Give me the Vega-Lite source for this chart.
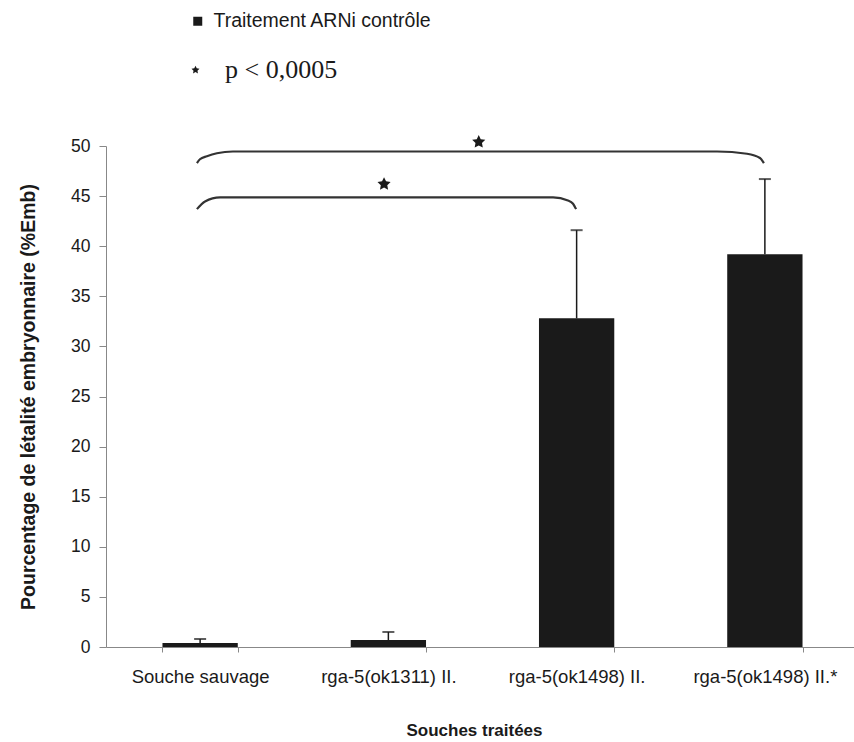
{
  "$schema": "https://vega.github.io/schema/vega-lite/v6.json",
  "width": 748,
  "height": 501,
  "autosize": {"type": "none"},
  "padding": {"left": 106, "top": 146, "right": 0, "bottom": 95},
  "background": "white",
  "config": {"view": {"stroke": null}, "font": "Liberation Sans"},
  "datasets": {
    "bars": [
      {"souche": "Souche sauvage", "val": 0.4, "upper": 0.8, "serie": "Traitement ARNi contrôle"},
      {"souche": "rga-5(ok1311) II.", "val": 0.7, "upper": 1.5, "serie": "Traitement ARNi contrôle"},
      {"souche": "rga-5(ok1498) II.", "val": 32.8, "upper": 41.6, "serie": "Traitement ARNi contrôle"},
      {"souche": "rga-5(ok1498) II.*", "val": 39.2, "upper": 46.7, "serie": "Traitement ARNi contrôle"}
    ],
    "brackets": [
      {"grp": "haut", "i": 1, "bx": 0.483, "by": 48.3},
      {"grp": "haut", "i": 2, "bx": 0.499, "by": 48.68},
      {"grp": "haut", "i": 3, "bx": 0.536, "by": 48.98},
      {"grp": "haut", "i": 4, "bx": 0.589, "by": 49.28},
      {"grp": "haut", "i": 5, "bx": 0.674, "by": 49.45},
      {"grp": "haut", "i": 6, "bx": 3.246, "by": 49.45},
      {"grp": "haut", "i": 7, "bx": 3.405, "by": 49.23},
      {"grp": "haut", "i": 8, "bx": 3.474, "by": 48.8},
      {"grp": "haut", "i": 9, "bx": 3.495, "by": 48.3},
      {"grp": "bas", "i": 1, "bx": 0.483, "by": 43.7},
      {"grp": "bas", "i": 2, "bx": 0.526, "by": 44.47},
      {"grp": "bas", "i": 3, "bx": 0.606, "by": 44.87},
      {"grp": "bas", "i": 4, "bx": 2.375, "by": 44.87},
      {"grp": "bas", "i": 5, "bx": 2.454, "by": 44.57},
      {"grp": "bas", "i": 6, "bx": 2.481, "by": 44.24},
      {"grp": "bas", "i": 7, "bx": 2.497, "by": 43.7}
    ],
    "stars": [
      {"bx": 1.98, "by": 50.4, "sig": "p < 0,0005"},
      {"bx": 1.477, "by": 46.2, "sig": "p < 0,0005"}
    ]
  },
  "layer": [
    {
      "layer": [
        {
          "data": {"name": "bars"},
          "mark": {"type": "bar"},
          "encoding": {
            "x": {
              "field": "souche", "type": "nominal", "sort": null,
              "scale": {"range": [0, 753], "paddingInner": 0.6, "paddingOuter": 0.3},
              "title": "Souches traitées",
              "axis": {
                "labelAngle": 0, "tickBand": "extent", "tickSize": 5, "labelPadding": 15,
                "labelFontSize": 18.5, "labelColor": "#1a1a1a", "labelFont": "Liberation Sans", "labelLimit": 0,
                "titleFontSize": 17, "titleFontWeight": "bold", "titleColor": "#1a1a1a", "titlePadding": 37,
                "titleX": 368,
                "domainColor": "#888888", "tickColor": "#888888", "grid": false
              }
            },
            "y": {
              "field": "val", "type": "quantitative",
              "scale": {"domain": [0, 50], "nice": false},
              "title": "Pourcentage de létalité embryonnaire (%Emb)",
              "axis": {
                "values": [0, 5, 10, 15, 20, 25, 30, 35, 40, 45, 50],
                "tickSize": 7, "labelPadding": 9, "labelFontSize": 17.5, "labelColor": "#1a1a1a",
                "titleFontSize": 19.5, "titleFontWeight": "bold", "titleColor": "#1a1a1a", "titlePadding": 32,
                "domainColor": "#888888", "tickColor": "#888888", "grid": false
              }
            },
            "color": {
              "field": "serie", "type": "nominal",
              "scale": {"range": ["#1a1a1a"]},
              "legend": {
                "orient": "none", "legendX": 82, "legendY": -134.5, "title": null, "padding": 0,
                "symbolType": "square", "symbolSize": 81, "symbolStrokeWidth": 0,
                "labelFont": "Liberation Sans", "labelFontSize": 19.5, "labelColor": "#1a1a1a",
                "labelOffset": 6, "labelLimit": 0
              }
            }
          }
        },
        {
          "data": {"name": "bars"},
          "mark": {"type": "rule", "color": "#1a1a1a", "strokeWidth": 1.5},
          "encoding": {
            "x": {"field": "souche", "type": "nominal", "sort": null},
            "y": {"field": "val", "type": "quantitative", "title": "Pourcentage de létalité embryonnaire (%Emb)"},
            "y2": {"field": "upper"}
          }
        },
        {
          "data": {"name": "bars"},
          "mark": {"type": "tick", "color": "#1a1a1a", "thickness": 2, "size": 12},
          "encoding": {
            "x": {"field": "souche", "type": "nominal", "sort": null},
            "y": {"field": "upper", "type": "quantitative", "title": "Pourcentage de létalité embryonnaire (%Emb)"}
          }
        }
      ]
    },
    {
      "layer": [
        {
          "data": {"name": "brackets"},
          "mark": {"type": "line", "color": "#333333", "strokeWidth": 2.2, "interpolate": "monotone"},
          "encoding": {
            "x": {"field": "bx", "type": "quantitative", "scale": {"domain": [0, 4], "range": [0, 753], "nice": false, "zero": false}, "axis": null},
            "y": {"field": "by", "type": "quantitative", "title": "Pourcentage de létalité embryonnaire (%Emb)"},
            "detail": {"field": "grp", "type": "nominal"},
            "order": {"field": "i", "type": "quantitative"}
          }
        },
        {
          "data": {"name": "stars"},
          "mark": {"type": "point", "filled": true, "color": "#1a1a1a", "size": 190, "opacity": 1},
          "encoding": {
            "x": {"field": "bx", "type": "quantitative"},
            "y": {"field": "by", "type": "quantitative", "title": "Pourcentage de létalité embryonnaire (%Emb)"},
            "shape": {
              "field": "sig", "type": "nominal",
              "scale": {"range": ["M0,-1L0.29,-0.4L0.951,-0.309L0.47,0.153L0.588,0.809L0,0.5L-0.588,0.809L-0.47,0.153L-0.951,-0.309L-0.29,-0.4Z"]},
              "legend": {
                "orient": "none", "legendX": 76.5, "legendY": -89, "title": null, "padding": 0,
                "symbolSize": 70, "symbolFillColor": "#1a1a1a", "symbolStrokeWidth": 0, "symbolOpacity": 1,
                "labelFont": "Liberation Serif", "labelFontSize": 26, "labelColor": "#1a1a1a",
                "labelOffset": 16.5, "labelLimit": 0
              }
            }
          }
        }
      ]
    }
  ],
  "resolve": {"scale": {"x": "independent"}, "axis": {"x": "independent"}}
}
